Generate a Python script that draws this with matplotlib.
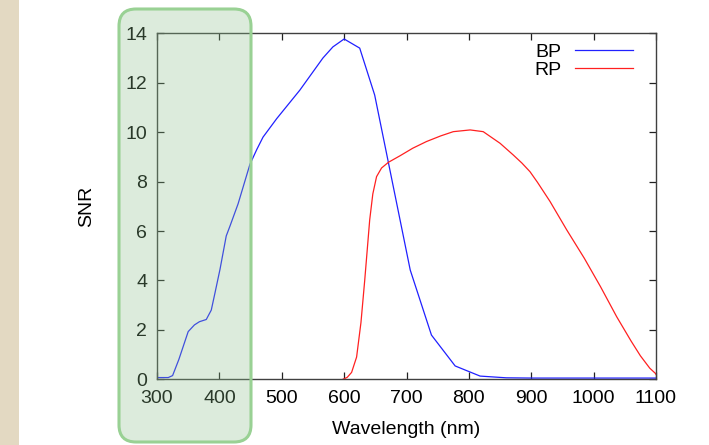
import numpy as np
import matplotlib
matplotlib.use("Agg")
import matplotlib.pyplot as plt
from matplotlib.patches import FancyBboxPatch, Rectangle

plt.rcParams['font.family'] = ['Liberation Sans', 'DejaVu Sans']

# BP curve (wavelength in nm, SNR)
wl_bp = [300, 318, 325, 335, 350, 360, 368, 379, 387, 393, 401, 411, 417, 430,
         449, 460, 470, 492, 529, 566, 582, 600, 625, 649, 706, 740, 778, 818,
         860, 900, 1000, 1100]
snr_bp = [0.07, 0.07, 0.15, 0.8, 1.93, 2.2, 2.33, 2.42, 2.8, 3.5, 4.45, 5.8,
          6.2, 7.1, 8.7, 9.3, 9.8, 10.55, 11.7, 13.0, 13.45, 13.77, 13.4, 11.5,
          4.42, 1.79, 0.54, 0.13, 0.06, 0.05, 0.05, 0.05]

# RP curve
wl_rp = [598, 605, 612, 620, 627, 633, 641, 646, 652, 660, 671, 690, 710, 732,
         755, 775, 802, 823, 850, 871, 885, 898, 910, 930, 957, 985, 1011, 1037,
         1060, 1075, 1090, 1099, 1100]
snr_rp = [0.0, 0.08, 0.28, 0.9, 2.3, 4.0, 6.45, 7.5, 8.2, 8.55, 8.78, 9.05,
          9.35, 9.62, 9.85, 10.02, 10.09, 10.02, 9.55, 9.08, 8.75, 8.4, 7.97,
          7.2, 6.04, 4.9, 3.75, 2.53, 1.55, 0.95, 0.45, 0.24, 0.2]

x_ticks = [300, 400, 500, 600, 700, 800, 900, 1000, 1100]
y_ticks = [0, 2, 4, 6, 8, 10, 12, 14]

fig = plt.figure(figsize=(7.09, 4.45), dpi=100)
ax = fig.add_axes([157 / 709, (445 - 379.3) / 445, 499 / 709, 346 / 445])

ax.plot(wl_bp, snr_bp, color='#2020ff', lw=0.9, label='BP')
ax.plot(wl_rp, snr_rp, color='#ff2020', lw=0.9, label='RP')

ax.set_xlim(300, 1100)
ax.set_ylim(0, 14)
ax.set_xticks(x_ticks)
ax.set_yticks(y_ticks)
ax.tick_params(direction='in', length=5, width=0.9, top=True, right=True,
               labelsize=14, color='#222222', pad=7)
ax.tick_params(axis='x', pad=8)
for s in ax.spines.values():
    s.set_color('#404040')
    s.set_linewidth(1.0)

ax.set_xlabel('Wavelength (nm)', fontsize=14, labelpad=10)
ax.set_ylabel('SNR', fontsize=14, labelpad=22)

ax.legend(loc='upper right', bbox_to_anchor=(0.954, 0.972), frameon=False,
          markerfirst=False, fontsize=14, handlelength=3.0,
          handletextpad=0.7, labelspacing=0.05, borderpad=0, borderaxespad=0)

# paper strip on the left edge
fig.add_artist(Rectangle((0, 0), 0.19, 4.45, transform=fig.dpi_scale_trans,
                         facecolor='#e3d9c2', edgecolor='none', zorder=0))

# green highlight box
box = FancyBboxPatch((1.19, 0.03), 1.32, 4.33, transform=fig.dpi_scale_trans,
                     boxstyle='round,pad=0,rounding_size=0.17',
                     facecolor=(0.55, 0.75, 0.55, 0.3),
                     edgecolor=(0.6, 0.82, 0.58, 1.0), linewidth=2.2, zorder=5)
fig.add_artist(box)

fig.savefig('out.png', dpi=100)
